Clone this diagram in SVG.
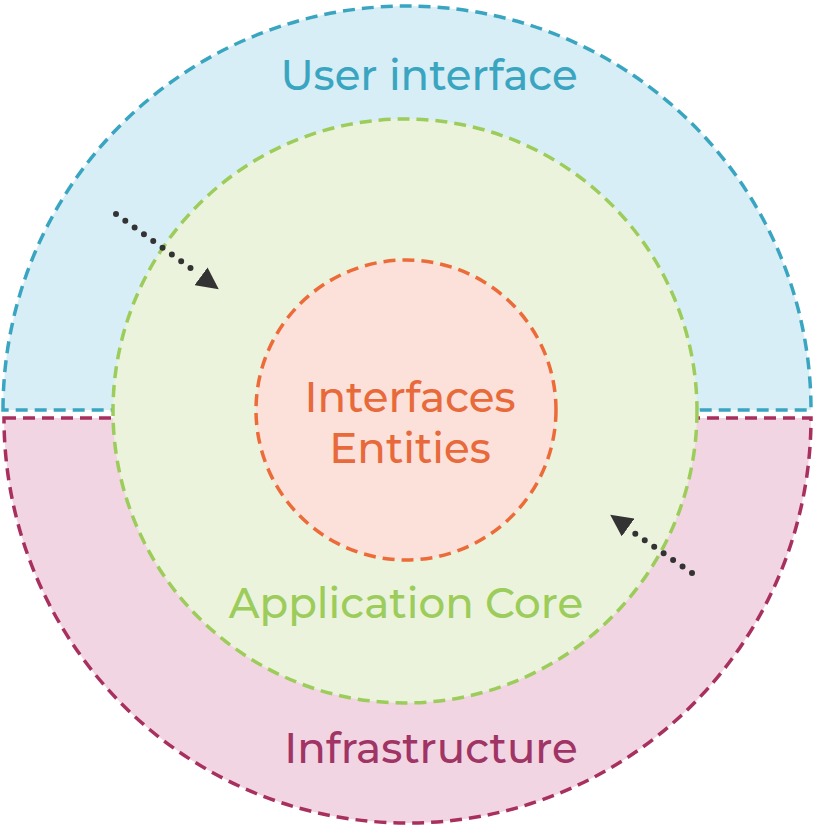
<svg xmlns="http://www.w3.org/2000/svg" width="820" height="830" viewBox="0 0 820 830">
<style>
.ring{stroke-width:3.5;stroke-dasharray:12 7}
.lbl{font-family:"Montserrat","Open Sans","Liberation Sans",sans-serif;font-weight:500;text-anchor:middle}
.dep{fill:none;stroke:#333;stroke-width:6;stroke-linecap:round;stroke-dasharray:0 11.5}
</style>
<defs>
<marker id="ah" viewBox="0 0 10 10" refX="9" refY="5" markerWidth="22" markerHeight="22" markerUnits="userSpaceOnUse" orient="auto">
<path d="M0,0 L10,5 L0,10 Z" fill="#333"/>
</marker>
</defs>
<rect width="820" height="830" fill="#ffffff"/>
<g id="user-interface">
<path class="ring" d="M3,410 A404,404 0 0 1 811,410 Z" fill="#d7eef6" stroke="#3aa5c0"/>
<text class="lbl" x="429" y="90" font-size="42" fill="#3aa5c0">User interface</text>
</g>
<g id="infrastructure">
<path class="ring" d="M4,418 L811,418 A403.5,405 0 0 1 4,418 Z" fill="#f2d5e2" stroke="#a8305e"/>
<text class="lbl" x="431" y="763" font-size="42" fill="#a03465">Infrastructure</text>
</g>
<g id="application-core">
<circle class="ring" cx="405" cy="411" r="292" fill="#ebf3dd" stroke="#9ccc5a"/>
<text class="lbl" x="406" y="618" font-size="42" fill="#9ccc5a">Application Core</text>
</g>
<g id="core-entities">
<circle class="ring" cx="406" cy="410" r="150" fill="#fbe1d9" stroke="#ec6b38"/>
<text class="lbl" x="410" y="412" font-size="42" fill="#e8693a">Interfaces</text>
<text class="lbl" x="410" y="463" font-size="42" fill="#e8693a">Entities</text>
</g>
<g id="connectors">
<path class="dep" d="M116,214 L196,272"/>
<path d="M116,214 L217,288" fill="none" stroke="none" marker-end="url(#ah)"/>
<path class="dep" d="M692,573 L630,530"/>
<path d="M692,573 L612,516" fill="none" stroke="none" marker-end="url(#ah)"/>
</g>
</svg>
